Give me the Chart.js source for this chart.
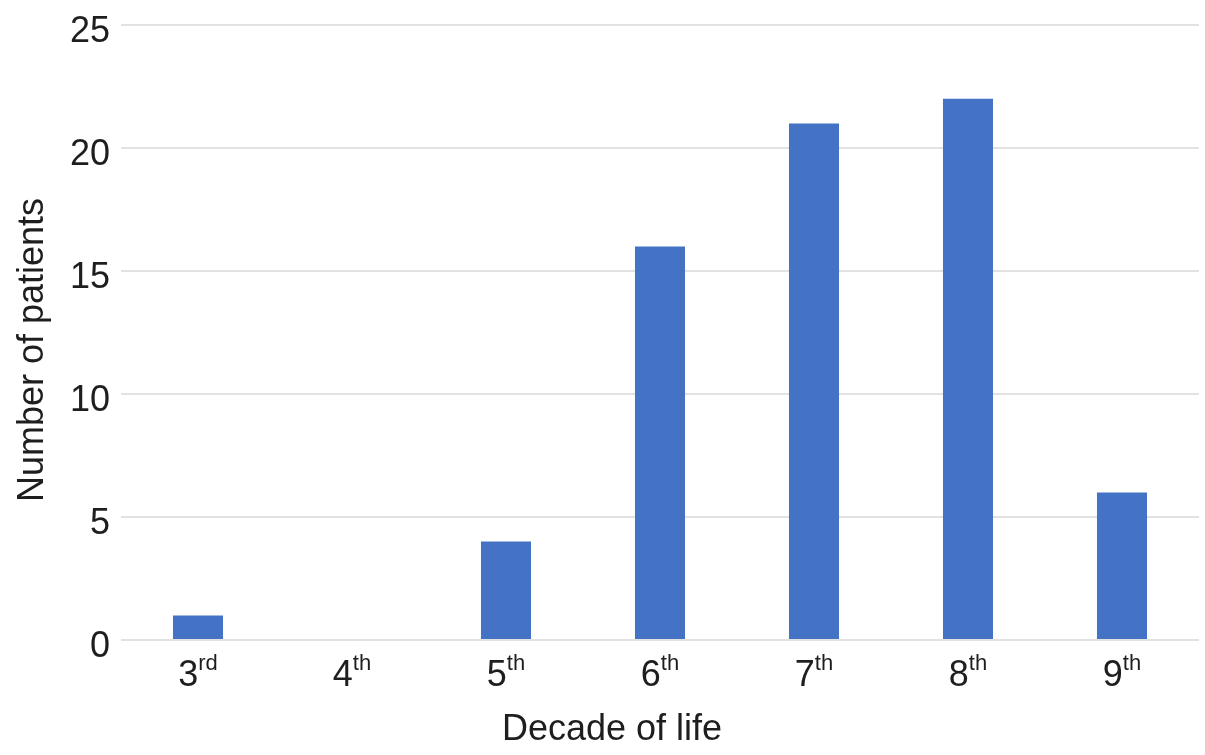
<!DOCTYPE html>
<html>
<head>
<meta charset="utf-8">
<script src="https://cdn.jsdelivr.net/npm/chart.js@4"></script>
<style>
  html, body { margin: 0; padding: 0; background: #fff; }
  #box { width: 1205px; height: 755px; }
</style>
</head>
<body>
<div id="box"><canvas id="bar_canvas"></canvas></div>
<script>
// data
const decades = ['3', '4', '5', '6', '7', '8', '9'];
const suffixes = ['rd', 'th', 'th', 'th', 'th', 'th', 'th'];
const patients = [1, 0, 4, 16, 21, 22, 6];
const yTicks = [0, 5, 10, 15, 20, 25];
const xTitle = 'Decade of life';
const yTitle = 'Number of patients';

const FONT = "'Liberation Sans', Arial, Helvetica, sans-serif";
const textColor = '#1e1e1e';

// tick labels (ordinals with raised suffix) + both axis titles
const labelsPlugin = {
    id: 'labelsPlugin',
    afterDraw(chart) {
        let ctx = chart.ctx;
        let x = chart.scales.x;
        let y = chart.scales.y;
        ctx.save();
        ctx.fillStyle = textColor;
        ctx.textBaseline = 'alphabetic';
        ctx.textAlign = 'left';
        for (let i = 0; i < decades.length; i++) {
            let cx = x.getPixelForTick(i);
            ctx.font = '36px ' + FONT;
            let w1 = ctx.measureText(decades[i]).width;
            ctx.font = '22px ' + FONT;
            let w2 = ctx.measureText(suffixes[i]).width;
            let start = cx - (w1 + w2) / 2;
            ctx.font = '36px ' + FONT;
            ctx.fillText(decades[i], start, 686);
            ctx.font = '22px ' + FONT;
            ctx.fillText(suffixes[i], start + w1, 670);
        }
        // y tick labels
        ctx.font = '36px ' + FONT;
        ctx.textAlign = 'right';
        yTicks.forEach(v => {
            ctx.fillText(String(v), 110, y.getPixelForValue(v) + 17);
        });
        // x title
        ctx.textAlign = 'center';
        ctx.fillText(xTitle, 612, 740);
        // y title
        ctx.translate(43, 350);
        ctx.rotate(-Math.PI / 2);
        ctx.fillText(yTitle, 0, 0);
        ctx.restore();
    }
};

const config = {
    type: 'bar',
    data: {
        labels: decades.map((d, i) => d + suffixes[i]),
        datasets: [{
            label: 'Patients',
            data: patients,
            backgroundColor: '#4472C4',
            categoryPercentage: 1,
            barPercentage: 0.325
        }]
    },
    options: {
        responsive: true,
        maintainAspectRatio: false,
        animation: false,
        layout: { padding: { top: 25, right: 6, left: 0, bottom: 0 } },
        plugins: {
            legend: { display: false },
            tooltip: { enabled: false }
        },
        scales: {
            x: {
                grid: { display: false },
                border: { display: false },
                ticks: { display: false },
                afterFit: (s) => { s.height = 115; }
            },
            y: {
                min: 0,
                max: 25,
                afterBuildTicks: (s) => { s.ticks = yTicks.map(v => ({ value: v })); },
                afterFit: (s) => { s.width = 121; s.paddingTop = 0; s.paddingBottom = 0; },
                grid: { color: '#e2e2e2', lineWidth: 2, drawTicks: false },
                border: { display: false },
                ticks: { display: false }
            }
        }
    },
    plugins: [labelsPlugin]
};

new Chart(document.getElementById('bar_canvas'), config);
</script>
</body>
</html>
